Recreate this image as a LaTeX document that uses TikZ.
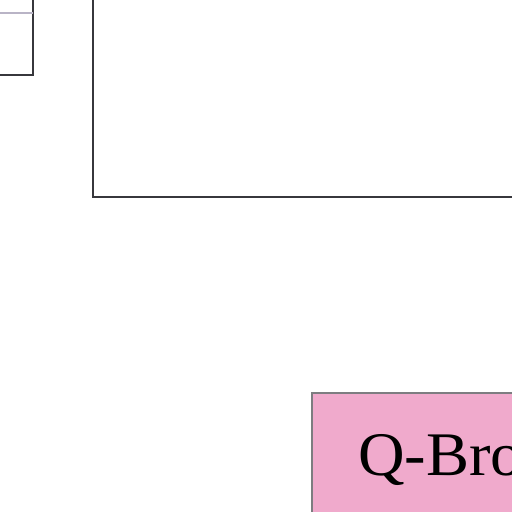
\documentclass[tikz,border=0pt]{standalone}
\usepackage{fontspec}
\setmainfont{Liberation Serif}
\definecolor{boxpink}{RGB}{240,170,204}
\definecolor{edgegray}{RGB}{55,55,60}
\definecolor{sepgray}{RGB}{185,180,198}
\begin{document}
\begin{tikzpicture}[x=1pt,y=-1pt,
  frame/.style={draw=edgegray,line width=2pt,fill=white},
  pinkbox/.style={draw=edgegray!65,line width=2pt,fill=boxpink}]
\useasboundingbox (0,0) rectangle (512,512);
\clip (0,0) rectangle (512,512);
\fill[white] (0,0) rectangle (512,512);
% top-left box
\node[frame,rectangle,inner sep=0pt,minimum width=133pt,minimum height=176pt,anchor=south east] (tl) at (33.5,76) {};
\coordinate (sepL) at (-10,12.5);
\coordinate (sepR) at (32.5,12.5);
\draw[sepgray,line width=2pt] (sepL) -- (sepR);
% big rectangle
\node[frame,rectangle,inner sep=0pt,minimum width=600pt,minimum height=400pt,anchor=south west] (big) at (91.5,198) {};
% pink box
\node[pinkbox,rectangle,inner sep=0pt,minimum width=500pt,minimum height=300pt,anchor=north west] (qb) at (310.5,391.5) {};
\node[anchor=base west,inner sep=0pt,font=\fontsize{62}{62}\selectfont,xscale=1.04] (qbt) at (358,475) {Q-Broker};
\end{tikzpicture}
\end{document}
